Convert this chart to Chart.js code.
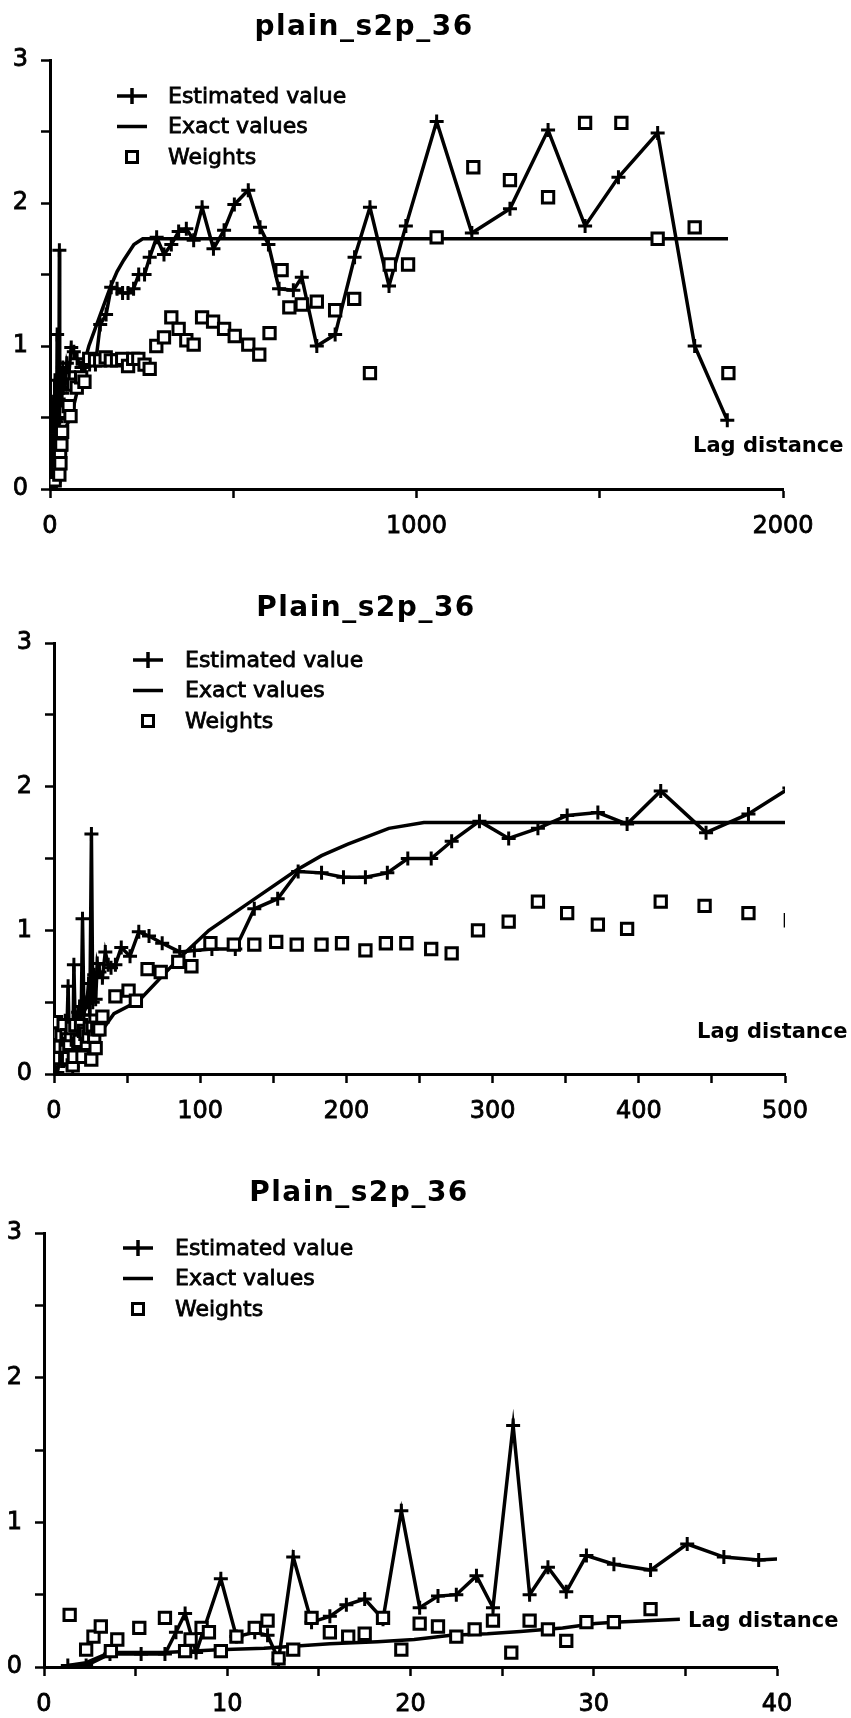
<!DOCTYPE html>
<html>
<head>
<meta charset="utf-8">
<script src="https://cdn.jsdelivr.net/npm/chart.js@4.4.1/dist/chart.umd.min.js"></script>
<style>
  html, body { margin: 0; padding: 0; background: #fff; }
  body { width: 851px; height: 1718px; position: relative; overflow: hidden; }
  canvas { position: absolute; left: 0; }
</style>
</head>
<body>
<canvas id="c1" width="851" height="580" style="top:0px"></canvas>
<canvas id="c2" width="851" height="580" style="top:580px"></canvas>
<canvas id="c3" width="851" height="558" style="top:1160px"></canvas>
<script>
/* ===========================
   Data
   =========================== */

const seriesNames = ["Estimated value", "Exact values", "Weights"];

// Estimated value
const estLag = [1.3, 2.3, 3.6, 5.3, 6.6, 7.2, 7.7, 8.3, 9.65, 10.5, 11.5, 12.2, 12.8, 13.6, 14.6,
  15.6, 16.5, 17.5, 18.5, 19.5, 20.5, 21.5, 22.5, 23.6, 24.5, 25.6, 26.5, 27.5, 28.5, 29.6,
  31.1, 33.1, 35.1, 37.1, 39.0, 42, 46, 52, 58, 65, 74, 86, 96, 108, 124,
  137, 153, 167, 183, 198, 213, 228, 242, 258, 272, 291, 311, 331, 351, 372,
  392, 415, 446, 475, 503, 541, 573, 596, 625, 664, 687, 728, 778, 831, 873,
  925, 971, 1055, 1151, 1255, 1359, 1460, 1551, 1658, 1759, 1848];
const estVal = [0.01, 0.01, 0.09, 0.09, 0.09, 0.24, 0.37, 0.10, 0.61, 0.21, 0.24, 0.22, 0.05, 0.76, 0.31,
  0.35, 0.43, 0.47, 0.33, 1.08, 0.41, 0.49, 0.50, 0.63, 0.41, 1.67, 0.50, 0.69, 0.52, 0.77,
  0.71, 0.67, 0.85, 0.76, 0.74, 0.76, 0.88, 0.82, 0.99, 0.96, 0.91, 0.85, 0.86, 0.87, 0.87,
  1.15, 1.22, 1.41, 1.40, 1.37, 1.37, 1.40, 1.50, 1.50, 1.62, 1.76, 1.64, 1.71, 1.80, 1.82,
  1.74, 1.97, 1.68, 1.81, 1.99, 2.09, 1.83, 1.71, 1.40, 1.39, 1.48, 1.00, 1.08, 1.62, 1.97,
  1.42, 1.84, 2.57, 1.79, 1.96, 2.51, 1.84, 2.18, 2.49, 1.00, 0.48];

// Exact values
const exactLag = [1.3, 2.3, 3.6, 6.6, 9.5, 12, 15.6, 18.2, 20.2, 22.2, 24.2, 26, 28.3, 30.1, 31.1,
  34.7, 41, 58, 86, 106, 136, 166, 183, 201, 229, 253, 500, 1850];
const exactVal = [0.01, 0.03, 0.10, 0.10, 0.12, 0.13, 0.16, 0.175, 0.19, 0.22, 0.23, 0.245, 0.27, 0.30, 0.31,
  0.33, 0.42, 0.51, 0.81, 1.00, 1.21, 1.42, 1.52, 1.60, 1.71, 1.75, 1.75, 1.75];

// Weights
const wLag = [1.4, 2.3, 2.7, 3.1, 3.65, 4.0, 5.2, 6.6, 7.7, 8.0, 8.6, 9.0, 9.65, 10.5, 11.5,
  12.2, 12.8, 13.6, 14.6, 15.6, 16.6, 17.5, 18.5, 19.5, 20.5, 21.5, 22.5, 23.5, 24.5, 25.5,
  26.5, 27.5, 28.5, 29.6, 31.1, 33.1, 42, 51, 56, 64, 73, 85, 94, 107, 123,
  137, 152, 166, 183, 197, 213, 227, 241, 258, 272, 290, 311, 331, 351, 372,
  392, 415, 445, 475, 504, 541, 571, 599, 632, 653, 687, 728, 778, 830, 873,
  927, 977, 1055, 1155, 1255, 1359, 1460, 1559, 1658, 1759, 1851];
const wVal = [0.36, 0.12, 0.21, 0.28, 0.11, 0.19, 0.27, 0.34, 0.11, 0.19, 0.27, 0.24, 0.11, 0.21, 0.27,
  0.32, 0.06, 0.12, 0.34, 0.24, 0.21, 0.23, 0.34, 0.12, 0.30, 0.28, 0.21, 0.26, 0.32, 0.10,
  0.32, 0.26, 0.18, 0.31, 0.31, 0.40, 0.54, 0.58, 0.51, 0.73, 0.71, 0.78, 0.75, 0.91, 0.90,
  0.90, 0.92, 0.90, 0.90, 0.91, 0.86, 0.91, 0.91, 0.87, 0.84, 1.00, 1.06, 1.20, 1.12, 1.04,
  1.01, 1.20, 1.17, 1.12, 1.07, 1.01, 0.94, 1.09, 1.53, 1.27, 1.29, 1.31, 1.25, 1.33, 0.81,
  1.57, 1.57, 1.76, 2.25, 2.16, 2.04, 2.56, 2.56, 1.75, 1.83, 0.81];

// Panels: same data, three lag ranges
const panelTitles = ["plain_s2p_36", "Plain_s2p_36", "Plain_s2p_36"];
const panelXMax = [2000, 500, 40];
const panelXStep = [500, 50, 5];
const panelXLabelEvery = [1000, 100, 10];
const yMax = 3;
const yStep = 0.5;

/* ===========================
   Layout per panel
   =========================== */

const layouts = [
  { id: "c1", yw: 50, pad: { left: 0, right: 68, top: 60, bottom: 41 },
    title: [364, 35], legSym: 132, legText: 168, legY: 96, lag: [693, 447] },
  { id: "c2", yw: 54, pad: { left: 0, right: 66, top: 63, bottom: 36 },
    title: [366, 36], legSym: 148, legText: 185, legY: 80, lag: [697, 453] },
  { id: "c3", yw: 44, pad: { left: 0, right: 74, top: 73, bottom: 1 },
    title: [359, 41], legSym: 138, legText: 175, legY: 88, lag: [688, 462] }
];

const FONT = '"DejaVu Sans", sans-serif';

const toPoints = (xs, ys) => xs.map((x, i) => ({ x: x, y: ys[i] }));

// title, legend and axis caption drawn onto the canvas
const decor = {
  id: "decor",
  afterDraw(chart, args, o) {
    const ctx = chart.ctx;
    ctx.save();
    ctx.fillStyle = "#000";
    ctx.strokeStyle = "#000";

    ctx.font = "bold 28px " + FONT;
    ctx.letterSpacing = "1.5px";
    ctx.textAlign = "center";
    ctx.textBaseline = "alphabetic";
    ctx.fillText(o.title, o.titleX, o.titleY);
    ctx.letterSpacing = "0px";

    // scanned text is heavy, so give it a thin outline
    ctx.font = "22px " + FONT;
    ctx.textAlign = "left";
    ctx.textBaseline = "middle";
    seriesNames.forEach((name, i) => {
      const y = o.legY + i * 30.5;
      const sx = o.legSym;
      ctx.lineWidth = 0.8;
      ctx.fillText(name, o.legText, y + 1);
      ctx.strokeText(name, o.legText, y + 1);
      ctx.lineWidth = 3.5;
      if (i < 2) {
        ctx.beginPath();
        ctx.moveTo(sx - 15, y);
        ctx.lineTo(sx + 15, y);
        ctx.stroke();
      }
      if (i === 0) {
        ctx.beginPath();
        ctx.moveTo(sx, y - 8);
        ctx.lineTo(sx, y + 8);
        ctx.stroke();
      }
      if (i === 2) {
        ctx.lineWidth = 3;
        ctx.fillStyle = "#fff";
        ctx.fillRect(sx - 5.5, y - 5.5, 11, 11);
        ctx.strokeRect(sx - 5.5, y - 5.5, 11, 11);
        ctx.fillStyle = "#000";
      }
    });

    ctx.font = "bold 21px " + FONT;
    ctx.textAlign = "left";
    ctx.textBaseline = "middle";
    ctx.fillText("Lag distance", o.lagX, o.lagY);
    ctx.restore();
  }
};

/* ===========================
   Charts
   =========================== */

layouts.forEach((L, p) => {
  const xMax = panelXMax[p];
  new Chart(document.getElementById(L.id), {
    type: "scatter",
    data: {
      datasets: [
        {
          label: seriesNames[2],
          data: toPoints(wLag, wVal),
          showLine: false,
          pointStyle: "rect",
          pointRadius: 8,
          pointBorderWidth: 3,
          pointBorderColor: "#000",
          pointBackgroundColor: "#fff"
        },
        {
          label: seriesNames[0],
          data: toPoints(estLag, estVal),
          showLine: true,
          tension: 0,
          borderColor: "#000",
          borderWidth: 3.5,
          pointStyle: "cross",
          pointRadius: 7,
          pointBorderWidth: 3,
          pointBorderColor: "#000"
        },
        {
          // the exact curve stops at the last lag inside each panel
          label: seriesNames[1],
          data: toPoints(exactLag, exactVal).filter(pt => pt.x <= xMax),
          showLine: true,
          tension: 0,
          borderColor: "#000",
          borderWidth: 3.5,
          pointRadius: 0
        }
      ]
    },
    options: {
      responsive: false,
      animation: false,
      events: [],
      layout: { padding: L.pad },
      plugins: {
        legend: { display: false },
        tooltip: { enabled: false },
        title: { display: false },
        decor: {
          title: panelTitles[p],
          titleX: L.title[0], titleY: L.title[1],
          legSym: L.legSym, legText: L.legText, legY: L.legY,
          lagX: L.lag[0], lagY: L.lag[1]
        }
      },
      scales: {
        x: {
          type: "linear",
          min: 0,
          max: xMax,
          afterFit: (s) => { s.height = 50; },
          border: { display: true, color: "#000", width: 3 },
          grid: { display: true, drawOnChartArea: false, drawTicks: true, tickLength: 9, tickWidth: 2.5, tickColor: "#000" },
          ticks: {
            stepSize: panelXStep[p],
            autoSkip: false,
            maxRotation: 0,
            padding: 14,
            color: "#000",
            textStrokeColor: "#000",
            textStrokeWidth: 0.8,
            font: { family: FONT, size: 24 },
            callback: (v) => (v % panelXLabelEvery[p] === 0 ? String(v) : "")
          }
        },
        y: {
          min: 0,
          max: yMax,
          afterFit: (s) => { s.width = L.yw; },
          border: { display: true, color: "#000", width: 3 },
          grid: { display: true, drawOnChartArea: false, drawTicks: true, tickLength: 9, tickWidth: 2.5, tickColor: "#000" },
          ticks: {
            stepSize: yStep,
            autoSkip: false,
            padding: 13,
            color: "#000",
            textStrokeColor: "#000",
            textStrokeWidth: 0.8,
            font: { family: FONT, size: 24 },
            callback: (v) => (Number.isInteger(v) ? String(v) : "")
          }
        }
      }
    },
    plugins: [decor]
  });
});
</script>
</body>
</html>
